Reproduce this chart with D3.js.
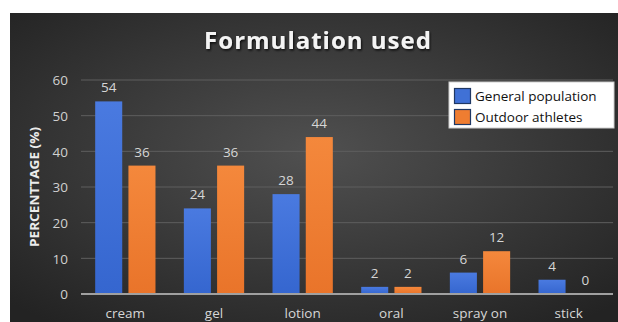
<!DOCTYPE html>
<html>
<head>
<meta charset="utf-8">
<script src="https://cdn.jsdelivr.net/npm/d3@7"></script>
<style>
  html, body { margin: 0; padding: 0; background: #ffffff; }
  svg { display: block; }
</style>
</head>
<body>
<svg id="chart" width="618" height="322"></svg>
<script>
// Formulation used, by group (percent of respondents)
const categories = ["cream", "gel", "lotion", "oral", "spray on", "stick"];
const seriesNames = ["General population", "Outdoor athletes"];
const generalPopulation = [54, 24, 28, 2, 6, 4];
const outdoorAthletes = [36, 36, 44, 2, 12, 0];
const yTicks = [0, 10, 20, 30, 40, 50, 60];
const colors = ["#4071d6", "#ef7d31"];

const svg = d3.select("#chart");
const W = 618, H = 322;
const panel = { x: 10, y: 13, w: 608, h: 309 };
const margin = { left: 81, right: 5, top: 80, bottom: 28 };

const defs = svg.append("defs");
const bg = defs.append("radialGradient").attr("id", "bg")
  .attr("cx", "50%").attr("cy", "45%").attr("r", "70%");
bg.append("stop").attr("offset", "0%").attr("stop-color", "#505050");
bg.append("stop").attr("offset", "100%").attr("stop-color", "#232323");

const gradFor = (id, c1, c2) => {
  const g = defs.append("linearGradient").attr("id", id)
    .attr("x1", "0").attr("y1", "0").attr("x2", "0").attr("y2", "1");
  g.append("stop").attr("offset", "0%").attr("stop-color", c1);
  g.append("stop").attr("offset", "100%").attr("stop-color", c2);
};
gradFor("g0", "#4a7ae0", "#3566cf");
gradFor("g1", "#f4883c", "#e9742a");

const shadow = defs.append("filter").attr("id", "shadow")
  .attr("x", "-10%").attr("y", "-20%").attr("width", "120%").attr("height", "150%");
shadow.append("feDropShadow").attr("dx", 1).attr("dy", 1.5)
  .attr("stdDeviation", 1.2).attr("flood-color", "#000").attr("flood-opacity", 0.8);

svg.append("rect").attr("x", panel.x).attr("y", panel.y)
  .attr("width", panel.w).attr("height", panel.h).attr("fill", "url(#bg)");

const x0 = d3.scaleBand().domain(categories)
  .range([margin.left, W - margin.right]).paddingInner(0).paddingOuter(0);
const groupW = x0.bandwidth();
const barW = groupW * 0.305;
const gap = groupW * 0.07;

const y = d3.scaleLinear().domain([0, 60]).range([294, 80]);

// grid lines
svg.append("g").selectAll("line").data(yTicks.filter(d => d > 0)).join("line")
  .attr("x1", margin.left).attr("x2", W - margin.right)
  .attr("y1", d => y(d)).attr("y2", d => y(d))
  .attr("stroke", "#5e5e5e").attr("stroke-width", 1);

// y axis tick labels
const yAxis = d3.axisLeft(y).tickValues(yTicks).tickSize(0).tickPadding(0);
const yg = svg.append("g").attr("transform", `translate(${margin.left - 13},0)`).call(yAxis);
yg.select(".domain").remove();
yg.selectAll("text").attr("fill", "#d0d0d0")
  .style("font-family", "'Open Sans', sans-serif").style("font-size", "13.5px")
  .attr("dy", "0.35em");

// bars
const series = [generalPopulation, outdoorAthletes];
series.forEach((vals, si) => {
  const offset = si === 0 ? -gap / 2 - barW : gap / 2;
  const g = svg.append("g");
  g.selectAll("rect").data(categories).join("rect")
    .attr("x", d => x0(d) + groupW / 2 + offset)
    .attr("y", (d, i) => y(vals[i]))
    .attr("width", barW)
    .attr("height", (d, i) => y(0) - y(vals[i]))
    .attr("fill", `url(#g${si})`);
  g.selectAll("text").data(categories).join("text")
    .attr("x", d => x0(d) + groupW / 2 + offset + barW / 2)
    .attr("y", (d, i) => y(vals[i]) - 9)
    .attr("text-anchor", "middle")
    .attr("fill", "#d6d6d6")
    .style("font-family", "'Open Sans', sans-serif").style("font-size", "13.5px")
    .text((d, i) => vals[i]);
});

// baseline
svg.append("line").attr("x1", margin.left).attr("x2", W - margin.right)
  .attr("y1", y(0)).attr("y2", y(0))
  .attr("stroke", "#a0a0a0").attr("stroke-width", 2);

// x axis labels
const xAxis = d3.axisBottom(x0).tickSize(0).tickPadding(0);
const xg = svg.append("g").attr("transform", `translate(0,${y(0) + 24})`).call(xAxis);
xg.select(".domain").remove();
xg.selectAll("text").attr("fill", "#d6d6d6").attr("dy", "0")
  .style("font-family", "'Open Sans', sans-serif").style("font-size", "13.5px");

// axis title
svg.append("text")
  .attr("transform", `translate(39,187) rotate(-90)`)
  .attr("text-anchor", "middle").attr("fill", "#ececec")
  .attr("textLength", 120).attr("lengthAdjust", "spacingAndGlyphs")
  .style("font-family", "'Open Sans', sans-serif").style("font-size", "11.5px")
  .style("font-weight", "bold")
  .text("PERCENTTAGE (%)");

// chart title
svg.append("text").attr("x", 318).attr("y", 49)
  .attr("text-anchor", "middle").attr("fill", "#f4f4f4")
  .attr("filter", "url(#shadow)")
  .style("font-family", "'Open Sans', sans-serif").style("font-size", "24px")
  .style("font-weight", "bold").style("letter-spacing", "1px")
  .text("Formulation used");

// legend
const lg = svg.append("g").attr("transform", "translate(449,82)");
lg.append("rect").attr("width", 165).attr("height", 46)
  .attr("fill", "#ffffff").attr("stroke", "#cfcfcf").attr("stroke-width", 1);
seriesNames.forEach((name, i) => {
  const row = lg.append("g").attr("transform", `translate(5,${6 + i * 21})`);
  row.append("rect").attr("x", 0.5).attr("y", 0.5).attr("width", 16).attr("height", 15)
    .attr("fill", colors[i]).attr("stroke", "#1f3864").attr("stroke-width", 1.2);
  row.append("text").attr("x", 21).attr("y", 13).attr("fill", "#111")
    .style("font-family", "'Open Sans', sans-serif").style("font-size", "13.5px")
    .text(name);
});
</script>
</body>
</html>
